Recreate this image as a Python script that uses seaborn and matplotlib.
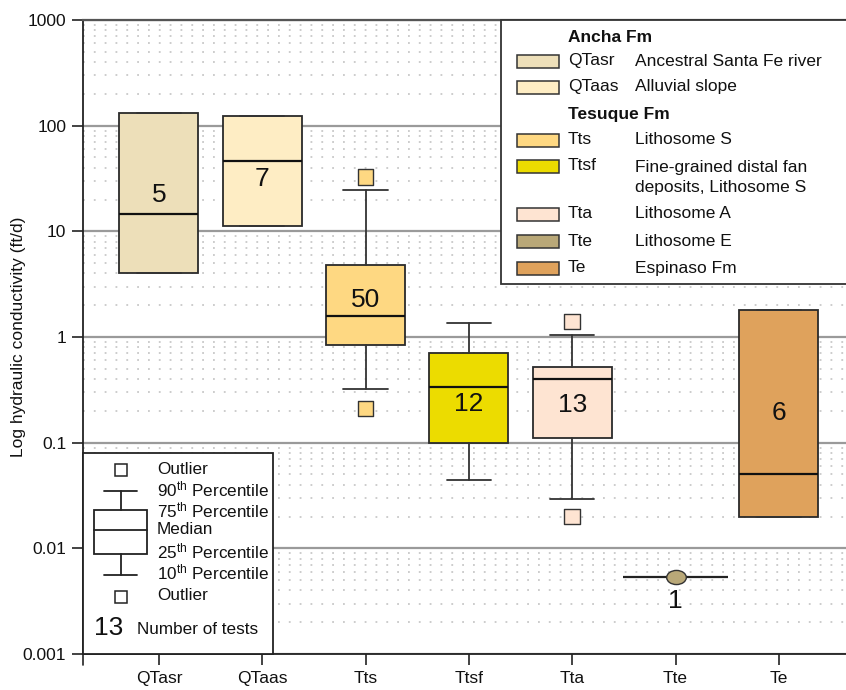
import numpy as np
import pandas as pd
import matplotlib
matplotlib.use("Agg")
import matplotlib.pyplot as plt
import matplotlib.ticker as mticker
from matplotlib.patches import Rectangle
from matplotlib.path import Path
import seaborn as sns

# values (ft/d)
units = ["QTasr", "QTaas", "Tts", "Ttsf", "Tta", "Tte", "Te"]
colors = ["#EDDFB9", "#FEEDC4", "#FED882", "#ECDC00", "#FEE4D2", "#B9A878", "#DFA25C"]
n_tests = [5, 7, 50, 12, 13, 1, 6]
p10 = [None, None, 0.32, 0.044, 0.029, None, None]
q1 = [4.0, 11.2, 0.84, 0.10, 0.11, None, 0.020]
median = [14.6, 46.0, 1.58, 0.335, 0.40, 0.0054, 0.050]
q3 = [132.0, 124.0, 4.8, 0.70, 0.52, None, 1.8]
p90 = [None, None, 24.6, 1.36, 1.05, None, None]
outlier_unit = ["Tts", "Tts", "Tta", "Tta"]
outlier_val = [32.7, 0.21, 1.4, 0.020]

legend_desc = ["Ancestral Santa Fe river", "Alluvial slope", "Lithosome S",
               "Fine-grained distal fan\ndeposits, Lithosome S",
               "Lithosome A", "Lithosome E", "Espinaso Fm"]

# where the count numbers sit (layout, not data)
count_label_y = [22, 31, 2.25, 0.23, 0.225, 0.0032, 0.19]

sns.set_theme(style="white")
plt.rcParams['font.family'] = ['Liberation Sans', 'DejaVu Sans']
plt.rcParams['mathtext.fontset'] = 'custom'
plt.rcParams['mathtext.rm'] = 'Liberation Sans'
plt.rcParams['mathtext.it'] = 'Liberation Sans:italic'

W, H = 846, 690
fig = plt.figure(figsize=(W / 100, H / 100), dpi=100)
ax = fig.add_axes([83 / W, 36 / H, (W - 83) / W, 634 / H])

pos = {u: i for i, u in enumerate(units)}
pal = dict(zip(units, colors))

##boxes
stats = []
box_pos = []
box_col = []
for i, u in enumerate(units):
    if q1[i] is None:
        continue
    stats.append(dict(med=median[i], q1=q1[i], q3=q3[i],
                      whislo=p10[i] if p10[i] is not None else q1[i],
                      whishi=p90[i] if p90[i] is not None else q3[i],
                      fliers=[]))
    box_pos.append(i)
    box_col.append(colors[i])

bp = ax.bxp(stats, positions=box_pos, widths=0.765, patch_artist=True,
            showfliers=False, capwidths=0.43,
            boxprops=dict(edgecolor='#2a2a2a', linewidth=1.3),
            medianprops=dict(color='#111111', linewidth=1.6),
            whiskerprops=dict(color='#333333', linewidth=1.3),
            capprops=dict(color='#333333', linewidth=1.3), zorder=3)
for patch, c in zip(bp['boxes'], box_col):
    patch.set_facecolor(c)

##outliers
fl = pd.DataFrame({'unit': outlier_unit, 'val': outlier_val})
fl['x'] = fl['unit'].map(pos)
sns.scatterplot(data=fl, x='x', y='val', hue='unit', palette=pal, marker='s',
                s=125, edgecolor='#333333', linewidth=1.0, legend=False, ax=ax, zorder=4)

##single test (Tte)
i_te = pos["Tte"]
ax.hlines(median[i_te], i_te - 0.51, i_te + 0.51, color='#222222', lw=1.6, zorder=3)
circ = Path.unit_circle()
ell = Path(circ.vertices * np.array([1.0, 0.72]), circ.codes)
single = pd.DataFrame({'x': [i_te], 'val': [median[i_te]]})
sns.scatterplot(data=single, x='x', y='val', marker=ell, s=200, color=colors[i_te],
                edgecolor='#333333', linewidth=1.0, legend=False, ax=ax, zorder=5)

##number of tests
for i, u in enumerate(units):
    ax.text(i, count_label_y[i], str(n_tests[i]), ha='center', va='center',
            fontsize=19, color='#111111', zorder=6)

##axes
ax.set_yscale('log')
ax.set_ylim(0.001, 1000)
ax.set_xlim(-0.735, 6.65)
ax.yaxis.set_major_locator(mticker.LogLocator(base=10, numticks=10))
ax.yaxis.set_major_formatter(mticker.FuncFormatter(lambda v, p: '%g' % v))
ax.yaxis.set_minor_locator(mticker.LogLocator(base=10, subs=np.arange(2, 10), numticks=20))
ax.yaxis.set_minor_formatter(mticker.NullFormatter())
ax.set_xticks(range(len(units)))
ax.set_xticklabels(units)
ax.tick_params(axis='both', which='major', direction='out', length=8, width=1.2,
               color='#222222', labelsize=12.5, labelcolor='#111111', pad=4,
               left=True, bottom=True)
ax.tick_params(axis='y', which='minor', length=0)
ax.grid(True, axis='y', which='major', color='#9a9a9a', lw=1.6)
ax.grid(True, axis='y', which='minor', color='#c8c8c8', lw=1.3, linestyle=(0, (1, 5)))
ax.set_axisbelow(True)
for s in ['left', 'bottom']:
    ax.spines[s].set_color('#222222')
    ax.spines[s].set_linewidth(1.3)
ax.spines['top'].set_color('#555555')
ax.spines['top'].set_linewidth(1.6)
ax.spines['right'].set_visible(False)
ax.set_ylabel('Log hydraulic conductivity (ft/d)', fontsize=12.5, color='#111111')
ax.yaxis.set_label_coords((26 - 83) / (W - 83), 0.5)
ax.set_xlabel('')

##legends drawn in pixel space
ov = fig.add_axes([0, 0, 1, 1], zorder=10)
ov.set_xlim(0, W)
ov.set_ylim(H, 0)
ov.axis('off')

# left spine runs a little past the x axis
ov.plot([83, 83], [654, 665], color='#222222', lw=1.2)

ov.add_patch(Rectangle((501, 20), 360, 264, fc='white', ec='#333333', lw=1.3))
ov.text(568, 37, 'Ancha Fm', fontsize=12.5, fontweight='bold', va='center', color='#111111')
ov.text(568, 115, 'Tesuque Fm', fontsize=12.5, fontweight='bold', va='center', color='#111111')
row_y = [61, 87, 140, 166, 214, 241, 268]
for i, u in enumerate(units):
    y = row_y[i]
    ov.add_patch(Rectangle((517, y - 6.5), 42, 13, fc=colors[i], ec='#333333', lw=1.1))
    ov.text(568, y, u, fontsize=12.5, va='center', color='#111111')
    ty = y + 11.5 if '\n' in legend_desc[i] else y
    ov.text(635, ty, legend_desc[i], fontsize=12.5, va='center', color='#111111',
            linespacing=1.45)

# explanation key
ov.add_patch(Rectangle((83, 453), 190, 201, fc='white', ec='#222222', lw=1.3))
kx = 121
ov.add_patch(Rectangle((kx - 6, 464), 12, 12, fc='white', ec='#222222', lw=1.1))
ov.add_patch(Rectangle((kx - 6, 591), 12, 12, fc='white', ec='#222222', lw=1.1))
ov.plot([kx, kx], [491, 510], color='#222222', lw=1.3)
ov.plot([kx, kx], [554, 575], color='#222222', lw=1.3)
ov.plot([104, 137], [491, 491], color='#222222', lw=1.3)
ov.plot([104, 137], [575, 575], color='#222222', lw=1.3)
ov.add_patch(Rectangle((94, 510), 53, 44, fc='white', ec='#222222', lw=1.3))
ov.plot([94, 147], [530, 530], color='#222222', lw=1.3)
key_lab = ['Outlier', '90$^{\\mathrm{th}}$ Percentile', '75$^{\\mathrm{th}}$ Percentile', 'Median',
           '25$^{\\mathrm{th}}$ Percentile', '10$^{\\mathrm{th}}$ Percentile', 'Outlier']
key_y = [469, 489, 510, 530, 551, 572, 596]
for t, y in zip(key_lab, key_y):
    ov.text(157, y, t, fontsize=12.3, va='center', color='#111111')
ov.text(109, 628, '13', fontsize=19, ha='center', va='center', color='#111111')
ov.text(137, 629, 'Number of tests', fontsize=12.3, va='center', color='#111111')

fig.savefig('out.png', dpi=100)
